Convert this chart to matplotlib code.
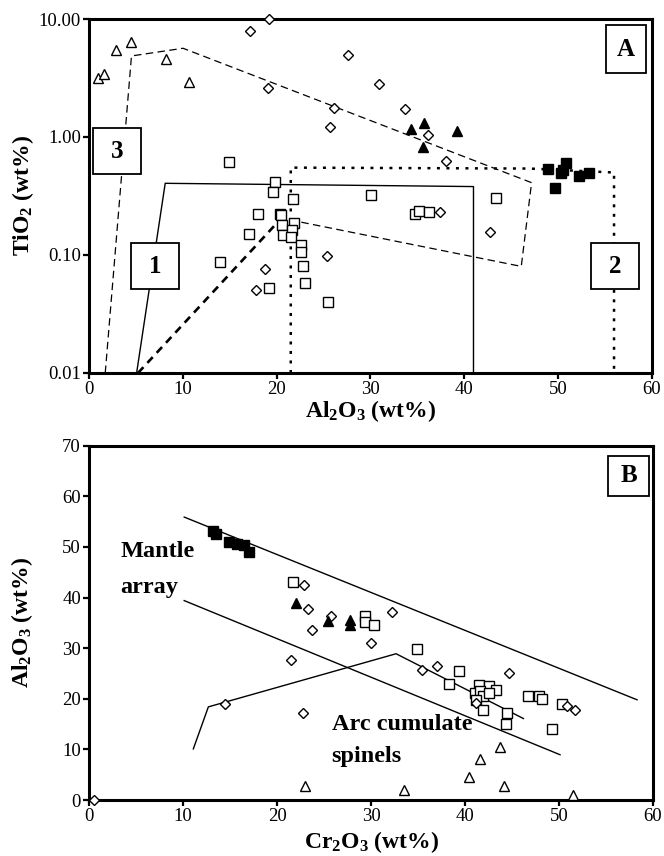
"""Spinel compositions: TiO2 vs Al2O3 (A) and Al2O3 vs Cr2O3 (B)."""

import matplotlib

matplotlib.use("Agg")
import matplotlib.pyplot as plt
from matplotlib.patches import Rectangle
from matplotlib.ticker import FixedLocator, FormatStrFormatter, NullLocator

plt.rcParams["font.family"] = ["Liberation Serif", "DejaVu Serif"]
plt.rcParams["mathtext.fontset"] = "custom"
plt.rcParams["mathtext.rm"] = "Liberation Serif"
plt.rcParams["mathtext.bf"] = "Liberation Serif:bold"

# ---- panel A: TiO2 (wt%) vs Al2O3 (wt%) ----
a_open_tri_al = [0.9, 1.6, 2.85, 4.4, 8.2, 10.6]
a_open_tri_ti = [3.14, 3.42, 5.45, 6.4, 4.55, 2.94]

a_diamond_al = [17.2, 19.2, 19.1, 26.1, 25.7, 27.6, 30.9, 33.7, 36.1, 38.1,
                25.4, 18.8, 17.8, 37.4, 42.8]
a_diamond_ti = [7.96, 10.0, 2.59, 1.75, 1.22, 5.0, 2.8, 1.74, 1.03, 0.63,
                0.0975, 0.0757, 0.0505, 0.233, 0.156]

a_fill_tri_al = [34.3, 35.7, 39.2, 35.6]
a_fill_tri_ti = [1.16, 1.32, 1.12, 0.83]

a_fill_sq_al = [49.0, 49.7, 50.3, 50.9, 50.6, 52.3, 53.3]
a_fill_sq_ti = [0.54, 0.37, 0.50, 0.60, 0.52, 0.47, 0.50]

a_open_sq_al = [14.9, 19.8, 19.6, 21.7, 18.0, 17.0, 13.95, 19.2, 20.3, 20.5,
                20.6, 20.7, 21.8, 21.6, 21.5, 22.6, 22.6, 22.8, 23.0, 25.5,
                30.1, 34.8, 35.2, 36.2, 43.4]
a_open_sq_ti = [0.618, 0.418, 0.344, 0.297, 0.221, 0.150, 0.0867, 0.052, 0.221, 0.217,
                0.179, 0.148, 0.186, 0.163, 0.143, 0.122, 0.107, 0.081, 0.0575, 0.0398,
                0.32, 0.221, 0.236, 0.233, 0.306]

# field outlines
field1_al = [5.05, 8.1, 41.0, 41.0]
field1_ti = [0.01, 0.405, 0.38, 0.01]
field2_al = [21.5, 21.5, 47.0, 56.0, 56.0]
field2_ti = [0.01, 0.55, 0.54, 0.50, 0.01]
field3_al = [1.7, 4.5, 10.0, 47.2, 46.1, 20.5]
field3_ti = [0.01, 4.86, 5.65, 0.41, 0.08, 0.205]
field3_base_al = [5.2, 20.5]
field3_base_ti = [0.01, 0.205]

# ---- panel B: Al2O3 (wt%) vs Cr2O3 (wt%) ----
b_fill_sq_cr = [13.2, 13.5, 14.9, 15.7, 16.5, 17.0]
b_fill_sq_al = [53.2, 52.5, 51.0, 50.6, 50.3, 49.0]

b_fill_tri_cr = [22.0, 25.45, 27.75, 27.7]
b_fill_tri_al = [38.9, 35.3, 34.6, 35.6]

b_open_sq_cr = [21.65, 29.35, 29.35, 30.35, 34.85, 39.3, 38.3, 41.5, 42.5, 43.3,
                41.05, 41.6, 41.9, 41.2, 42.5, 41.9, 44.5, 44.4, 46.7, 47.9,
                48.2, 50.3, 49.2]
b_open_sq_al = [43.0, 36.3, 35.1, 34.6, 29.8, 25.4, 23.0, 22.8, 22.5, 21.7,
                21.1, 21.5, 20.5, 19.8, 21.1, 17.8, 17.2, 15.0, 20.5, 20.5,
                20.0, 19.0, 14.0]

b_diamond_cr = [22.8, 23.3, 23.7, 25.7, 32.2, 21.5, 14.4, 22.7, 0.5, 29.95,
                35.4, 37.0, 44.7, 50.8, 51.7, 41.2]
b_diamond_al = [42.5, 37.8, 33.5, 36.3, 37.2, 27.6, 19.0, 17.1, 0.0, 31.0,
                25.6, 26.4, 25.1, 18.6, 17.8, 19.2]

b_open_tri_cr = [22.95, 33.5, 40.4, 41.6, 43.7, 44.1, 51.5]
b_open_tri_al = [2.7, 1.9, 4.5, 8.1, 10.5, 2.8, 0.9]

mantle_upper_cr = [10.1, 58.3]
mantle_upper_al = [55.9, 19.8]
mantle_lower_cr = [10.1, 50.1]
mantle_lower_al = [39.4, 8.95]
arc_cr = [11.07, 12.67, 32.65, 46.2]
arc_al = [10.1, 18.4, 28.9, 16.1]

x_ticks = [0, 10, 20, 30, 40, 50, 60]
a_y_ticks = [0.01, 0.1, 1.0, 10.0]
b_y_ticks = [0, 10, 20, 30, 40, 50, 60, 70]

OPEN = dict(ls="none", mfc="white", mec="black", mew=1.0, clip_on=False, zorder=4)
FILLED = dict(ls="none", mfc="black", mec="black", mew=1.0, clip_on=False, zorder=4)


def style_axes(ax):
    for spine in ax.spines.values():
        spine.set_linewidth(2.2)
    ax.tick_params(direction="out", length=4, width=1.6, labelsize=13.5, pad=2)
    ax.set_xlim(0, 60)
    ax.xaxis.set_major_locator(FixedLocator(x_ticks))


def label_box(ax, x0, y0, w, h, text):
    ax.add_patch(Rectangle((x0, y0), w, h, transform=ax.transAxes, fc="white",
                           ec="black", lw=1.3, zorder=6))
    ax.text(x0 + w / 2, y0 + h / 2, text, transform=ax.transAxes, ha="center",
            va="center", fontsize=18, fontweight="bold", zorder=7)


fig = plt.figure(figsize=(6.64, 8.56), dpi=100)

# panel A
ax = fig.add_axes([0.1345, 0.5643, 0.8467, 0.4135])
ax.set_yscale("log")
ax.set_ylim(0.01, 10)
ax.plot(field1_al, field1_ti, color="black", lw=1.0, zorder=2)
ax.plot(field2_al, field2_ti, color="black", lw=1.8, ls=(0, (1.2, 2.6)), zorder=2)
ax.plot(field3_al, field3_ti, color="black", lw=0.9, ls=(0, (6, 3.5)), zorder=2)
ax.plot(field3_base_al, field3_base_ti, color="black", lw=1.9, ls=(0, (3, 2.2)), zorder=2)
ax.plot(a_open_sq_al, a_open_sq_ti, marker="s", ms=6.8, **OPEN)
ax.plot(a_diamond_al, a_diamond_ti, marker="D", ms=4.6, **OPEN)
ax.plot(a_open_tri_al, a_open_tri_ti, marker="^", ms=7.5, **OPEN)
ax.plot(a_fill_tri_al, a_fill_tri_ti, marker="^", ms=7.5, **FILLED)
ax.plot(a_fill_sq_al, a_fill_sq_ti, marker="s", ms=7.0, **FILLED)
style_axes(ax)
ax.yaxis.set_major_locator(FixedLocator(a_y_ticks))
ax.yaxis.set_minor_locator(NullLocator())
ax.yaxis.set_major_formatter(FormatStrFormatter("%.2f"))
ax.set_xlabel(r"$\mathbf{Al_2O_3}$ (wt%)", fontsize=17, fontweight="bold")
ax.set_ylabel(r"$\mathbf{TiO_2}$ (wt%)", fontsize=17, fontweight="bold")
ax.xaxis.set_label_coords(0.5, -0.072)
ax.yaxis.set_label_coords(-0.094, 0.5)
label_box(ax, 0.0071, 0.562, 0.0843, 0.129, "3")
label_box(ax, 0.0736, 0.2364, 0.0859, 0.13, "1")
label_box(ax, 0.892, 0.2364, 0.086, 0.13, "2")
label_box(ax, 0.9185, 0.8466, 0.0717, 0.1364, "A")

# panel B
bx = fig.add_axes([0.1345, 0.0654, 0.849, 0.4139])
bx.set_ylim(0, 70)
bx.plot(mantle_upper_cr, mantle_upper_al, color="black", lw=1.0, zorder=2)
bx.plot(mantle_lower_cr, mantle_lower_al, color="black", lw=1.0, zorder=2)
bx.plot(arc_cr, arc_al, color="black", lw=1.0, zorder=2)
bx.plot(b_open_sq_cr, b_open_sq_al, marker="s", ms=6.8, **OPEN)
bx.plot(b_diamond_cr, b_diamond_al, marker="D", ms=4.6, **OPEN)
bx.plot(b_open_tri_cr, b_open_tri_al, marker="^", ms=7.5, **OPEN)
bx.plot(b_fill_tri_cr, b_fill_tri_al, marker="^", ms=7.5, **FILLED)
bx.plot(b_fill_sq_cr, b_fill_sq_al, marker="s", ms=7.5, **FILLED)
style_axes(bx)
bx.yaxis.set_major_locator(FixedLocator(b_y_ticks))
bx.set_xlabel(r"$\mathbf{Cr_2O_3}$ (wt%)", fontsize=17, fontweight="bold")
bx.set_ylabel(r"$\mathbf{Al_2O_3}$ (wt%)", fontsize=17, fontweight="bold")
bx.xaxis.set_label_coords(0.5, -0.082)
bx.yaxis.set_label_coords(-0.096, 0.5)
bx.text(3.3, 49.1, "Mantle", fontsize=17.5, fontweight="bold", va="center")
bx.text(3.3, 41.9, "array", fontsize=17.5, fontweight="bold", va="center")
bx.text(25.8, 14.9, "Arc cumulate", fontsize=17.5, fontweight="bold", va="center")
bx.text(25.8, 8.6, "spinels", fontsize=17.5, fontweight="bold", va="center")
label_box(bx, 0.9207, 0.859, 0.072, 0.113, "B")

fig.savefig("out.png", dpi=100)
